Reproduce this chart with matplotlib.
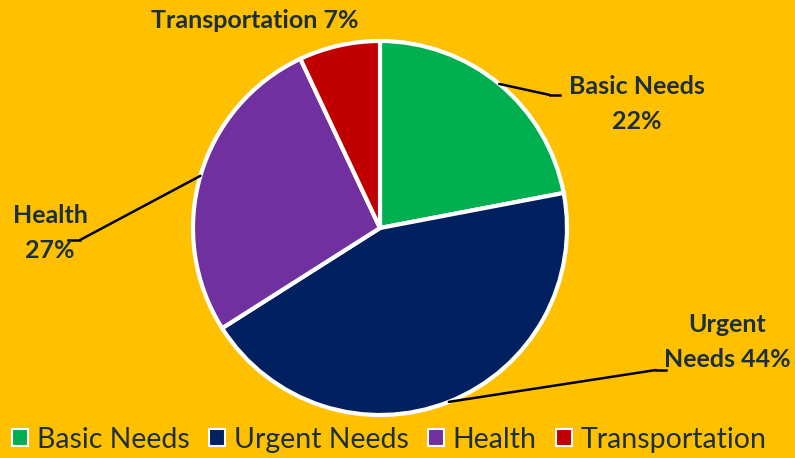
import numpy as np
import matplotlib
matplotlib.use("Agg")
import matplotlib.pyplot as plt
from matplotlib.patches import Patch

categories = ["Basic Needs", "Urgent Needs", "Health", "Transportation"]
shares = [22, 44, 27, 7]
colors = ["#00B050", "#002060", "#7030A0", "#C00000"]
slice_labels = ["Basic Needs\n22%", "Urgent\nNeeds 44%", "Health\n27%", "Transportation 7%"]

bg = "#FFC000"
txt = "#1E2F3C"
plt.rcParams["font.family"] = ["Lato", "DejaVu Sans"]

W, H = 795, 458
fig = plt.figure(figsize=(W / 100, H / 100), dpi=100, facecolor=bg)

# pie placed by pixel centre / radius
cx, cy, r = 380, 228, 187
ax = fig.add_axes([(cx - r) / W, (H - cy - r) / H, 2 * r / W, 2 * r / H])
ax.set_facecolor(bg)
wedges, _ = ax.pie(shares, colors=colors, startangle=90, counterclock=False,
                   wedgeprops=dict(edgecolor="white", linewidth=3))
ax.set_xlim(-1, 1)
ax.set_ylim(-1, 1)
ax.set_aspect("equal")
ax.axis("off")

# label positions in figure pixels (x, y from top), leader elbow
label_pos = [(637, 104), (727, 342), (50, 233), (255, 21)]
elbow = [(550, 95), (656, 370), (80, 240), None]
for w, lab, (lx, ly), el in zip(wedges, slice_labels, label_pos, elbow):
    ang = np.deg2rad((w.theta1 + w.theta2) / 2)
    ex, ey = np.cos(ang), np.sin(ang)
    fig.text(lx / W, 1 - ly / H, lab, ha="center", va="center", fontsize=18,
             fontweight="bold", color=txt, linespacing=1.6)
    if el is not None:
        ax.annotate("", xy=(ex, ey), xycoords="data",
                    xytext=(el[0] / W, 1 - el[1] / H), textcoords="figure fraction",
                    arrowprops=dict(arrowstyle="-", color="black", lw=1.8,
                                    shrinkA=0, shrinkB=0))
        dx = 10 if el[0] > cx else -12
        fig.add_artist(plt.Line2D([el[0] / W, (el[0] + dx) / W],
                                  [1 - el[1] / H, 1 - el[1] / H],
                                  color="black", lw=1.8))

handles = [Patch(facecolor=c, edgecolor="white", linewidth=1.5) for c in colors]
fig.legend(handles, categories, loc="lower center", bbox_to_anchor=(0.49, -0.045),
           ncol=4, frameon=False, fontsize=20.5, handlelength=0.55, handleheight=0.55,
           handletextpad=0.3, columnspacing=0.7, labelcolor=txt)

fig.savefig("out.png", dpi=100, facecolor=bg)
